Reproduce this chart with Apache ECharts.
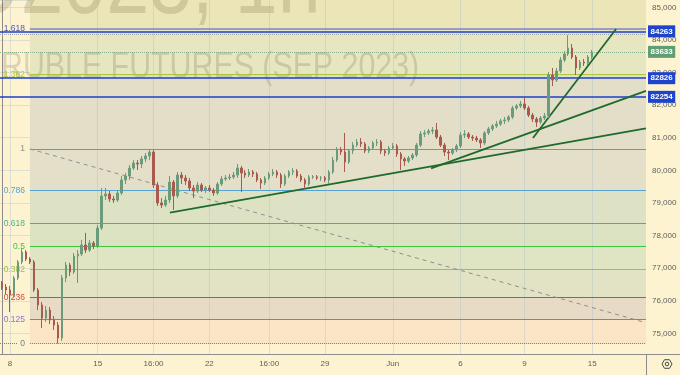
<!DOCTYPE html>
<html><head><meta charset="utf-8">
<script src="https://cdn.jsdelivr.net/npm/echarts@6/dist/echarts.min.js"></script>
<style>html,body{margin:0;padding:0;background:#fdf3d1}#c{width:680px;height:375px}</style>
</head><body><div id="c"></div>
<script>
// [open, close, low, high] hourly-ish bars
const candles = [
[76545,76420,76330,76605],[76420,76330,76205,76515],[76330,76175,75655,76455],[76175,76700,76115,76760],
[76700,77190,76635,77250],[77190,77495,77125,77620],[77495,77280,77220,77555],[77280,77190,77125,77340],
[77190,76330,76270,77250],[76330,75870,75715,76390],[75870,75470,75165,75960],[75470,75715,75350,75840],
[75715,75410,75285,75810],[75410,75255,75105,75530],[75255,74855,74690,75350],[74855,76700,74765,76790],
[76700,77095,76575,77190],[77095,76880,76760,77160],[76880,77370,76820,77465],[77370,77435,76545,77555],
[77435,77710,77370,77865],[77710,77555,77465,78080],[77555,77770,77495,77865],[77770,77680,77585,77835],
[77680,78230,77620,78325],[78230,79215,78170,79460],[79215,79275,79090,79460],[79275,79120,79030,79365],
[79120,79090,79000,79215],[79090,79305,79030,79395],[79305,79705,79245,79825],[79705,79825,79580,79920],
[79825,80070,79705,80165],[80070,80225,80010,80315],[80225,80195,80010,80315],[80195,80350,80070,80440],
[80350,80440,80255,80530],[80440,80560,80315,80655],[80560,79550,79460,80625],[79550,79000,78905,79640],
[79000,78935,78845,79150],[78935,79090,78875,79215],[79090,79640,79000,79825],[79640,79215,78785,79705],
[79215,79855,79150,79950],[79855,79765,79580,79950],[79765,79675,79550,79855],[79675,79460,79365,79765],
[79460,79365,79150,79550],[79365,79550,79305,79640],[79550,79395,79335,79610],[79395,79460,79305,79520],
[79460,79395,79335,79550],[79395,79305,79215,79460],[79305,79580,79245,79640],[79580,79735,79520,79825],
[79735,79765,79675,79855],[79765,79795,79705,79890],[79795,79855,79735,79950],[79855,80070,79765,80195],
[80070,79920,79335,80135],[79920,79855,79765,80010],[79855,79950,79795,80040],[79950,79890,79795,80010],
[79890,79705,79640,79950],[79705,79610,79430,79765],[79610,79765,79550,79825],[79765,79890,79705,79950],
[79890,79950,79825,80040],[79950,79855,79765,80010],[79855,79580,79460,79920],[79580,79825,79520,79890],
[79825,79950,79765,80010],[79950,79980,79855,80070],[79980,79825,79765,80040],[79825,79705,79640,79890],
[79705,79580,79430,79765],[79580,79795,79520,79855],[79795,79800,79735,79855],[79800,79765,79705,79855],
[79765,79770,79675,79825],[79770,79705,79640,79825],[79705,79950,79580,80010],[79950,80315,79890,80410],
[80315,80625,80255,80715],[80625,80560,80470,80715],[80560,80255,79950,81145],[80255,80595,80195,80655],
[80595,80775,80500,80870],[80775,80870,80715,80960],[80870,80810,80715,80990],[80810,80595,80530,80870],
[80595,80685,80530,80745],[80685,80840,80625,80900],[80840,80870,80745,80960],[80870,80595,80500,80930],
[80595,80530,80440,80655],[80530,80685,80470,80745],[80685,80745,80625,80840],[80745,80500,80410,80810],
[80500,80350,80010,80560],[80350,80285,80135,80410],[80285,80380,80225,80440],[80380,80470,80315,80530],
[80470,80775,80410,80840],[80775,81115,80715,81205],[81115,81145,81020,81235],[81145,81205,81085,81270],
[81205,81235,81115,81330],[81235,81020,80960,81450],[81020,80775,80715,81085],[80775,80560,80440,80840],
[80560,80530,80315,80625],[80530,80625,80470,80685],[80625,80745,80560,80810],[80745,81085,80685,81175],
[81085,81115,80990,81235],[81115,81020,80960,81175],[81020,80990,80900,81085],[80990,80930,80870,81055],
[80930,80840,80685,80990],[80840,81145,80775,81205],[81145,81270,81085,81330],[81270,81360,81205,81420],
[81360,81420,81300,81515],[81420,81515,81360,81575],[81515,81545,81420,81635],[81545,81635,81480,81695],
[81635,81910,81575,81975],[81910,81975,81850,82035],[81975,82035,81910,82125],[82035,81910,81850,82220],
[81910,81695,81635,81975],[81695,81575,81480,81760],[81575,81480,81330,81635],[81480,81605,81420,81665],
[81605,81665,81545,81760],[81665,82925,81605,83015],[82925,82770,82585,83140],[82770,83045,82710,83140],
[83045,83385,82985,83475],[83385,83570,83320,83660],[83570,83750,83505,84150],[83750,83475,83415,83875],
[83475,83140,82925,83535],[83140,83320,83075,83385],[83320,83290,83200,83415],[83290,83475,83230,83535],
[83475,83633,83415,83690]
];
const slotCount = 162;
const xTicks = [[2,'8'],[24,'15'],[38,'16:00'],[52,'22'],[67,'16:00'],[81,'29'],[98,'Jun'],[115,'6'],[131,'9'],[148,'15']];
const yMin = 74367, yMax = 85224;
const fibRatios = [0, 0.125, 0.236, 0.382, 0.5, 0.618, 0.786, 1, 1.382, 1.618];
const fibLabels = ['0','0.125','0.236','0.382','0.5','0.618','0.786','1','1.382','1.618'];
const fibLow = 74684, fibHigh = 80656;
const fibColors = ['#7b7b7b','#8d72cf','#d9463f','#9cc33a','#3cc43c','#3db88e','#56a2d2','#8e8e8e','#a9c83c','#7c82c8'];
const fibLabelColors = ['#7b7b7b','#8d72cf','#d9463f','#9cc33a','#3cc43c','#3db88e','#56a2d2','#8e8e8e','#a9c83c','#5458b0'];
const fibBandColors = ['#fbe5c6','#e8dbc5','#e2e3c4','#dfe4c3','#dce3c3','#dee2c5','#e3dfc8','#e2dec8','#e6e6c0'];
const fibTopColor = '#ece5b7';
const fibStartIdx = 7.0;
const blueLevels = [84263, 82826, 82254];
const lastPrice = 83633;
const highLine = 84170;
const trendLines = [
  [[42.1, 78700], [161.5, 81285]],
  [[107.6, 80060], [161.5, 82435]],
  [[133.15, 80990], [154.0, 84335]]
];
const fibDiagonal = [[7.0, 80656], [161.5, 75327]];

const tickMap = new Map(xTicks);
const categories = Array.from({length: slotCount}, (_, i) => tickMap.has(i) ? tickMap.get(i) : '');
const fibPrice = r => fibLow + r * (fibHigh - fibLow);
const xEnd = slotCount - 0.5;

const bands = [];
for (let i = 0; i < fibRatios.length - 1; i++) {
  bands.push([{coord: [fibStartIdx, fibPrice(fibRatios[i])], itemStyle: {color: fibBandColors[i], opacity: 1}},
              {coord: [xEnd, fibPrice(fibRatios[i + 1])]}]);
}
bands.push([{coord: [fibStartIdx, fibPrice(fibRatios[fibRatios.length - 1])], itemStyle: {color: fibTopColor, opacity: 1}},
            {coord: [xEnd, yMax]}]);

const fibLines = fibRatios.map((r, i) => [
  {coord: [fibStartIdx, fibPrice(r)],
   lineStyle: {color: fibColors[i], width: i === 9 ? 1.5 : 1, type: i === 0 ? 'dotted' : 'solid'},
   label: {show: true, position: 'start', distance: 5, formatter: fibLabels[i], color: fibLabelColors[i], fontSize: 8.5, fontFamily: 'Liberation Sans'}},
  {coord: [xEnd, fibPrice(r)]}
]);
fibLines.push([{coord: [-0.5, fibLow], lineStyle: {color: '#7b7b7b', width: 1, type: 'dotted'}, label: {show: false}},
               {coord: [fibStartIdx - 3.2, fibLow]}]);
fibLines.push([{coord: fibDiagonal[0], lineStyle: {color: '#8f8f8f', width: 1, type: [4, 4]}, label: {show: false}},
               {coord: fibDiagonal[1]}]);

const gridV = xTicks.map(t => ({xAxis: t[0], lineStyle: {color: 'rgba(165,185,205,0.35)', width: 1, type: 'solid'}, label: {show: false}}));

const boxLabel = (bg) => ({show: true, position: 'end', distance: 2, formatter: p => String(p.value),
  backgroundColor: bg, color: '#ffffff', fontSize: 8, fontWeight: 'bold', fontFamily: 'Liberation Sans', padding: [2, 2.5, 2, 2.5]});

const topLines = [];
blueLevels.forEach(v => topLines.push({yAxis: v, lineStyle: {color: '#1d3fcc', width: 1.6, type: 'solid'}, label: boxLabel('#1e44cc')}));
topLines.push({yAxis: lastPrice, lineStyle: {color: '#86ad8c', width: 1, type: 'dotted'}, label: boxLabel('#5f9e74')});
topLines.push({yAxis: highLine, lineStyle: {color: '#a5a5a5', width: 1, type: 'dotted'}, label: {show: false}});
trendLines.forEach(t => topLines.push([{coord: t[0], lineStyle: {color: '#1f6b2e', width: 1.8, type: 'solid'}, label: {show: false}}, {coord: t[1]}]));

const chart = echarts.init(document.getElementById('c'), null, {renderer: 'canvas'});
chart.setOption({
  animation: false,
  backgroundColor: '#fdf3d1',
  grid: {left: 0, right: 34, top: 0, bottom: 21, containLabel: false},
  xAxis: [
    {type: 'category', data: categories, boundaryGap: true,
     axisLine: {show: true, lineStyle: {color: '#8c8c8c'}}, axisTick: {show: false},
     axisLabel: {interval: (i) => tickMap.has(i), color: '#5f5f5f', fontSize: 8, margin: 6, fontFamily: 'Liberation Sans'},
     splitLine: {show: false}},
    {type: 'value', min: -0.5, max: xEnd, show: false}
  ],
  yAxis: {type: 'value', position: 'right', min: yMin, max: yMax, splitNumber: 10, scale: false,
    axisLine: {show: true, lineStyle: {color: '#8c8c8c'}}, axisTick: {show: false},
    axisLabel: {color: '#5f5f5f', fontSize: 8, margin: 6, showMinLabel: false, showMaxLabel: false, fontFamily: 'Liberation Sans'},
    splitLine: {show: true, lineStyle: {color: 'rgba(165,185,205,0.35)'}}},
  graphic: [
    {type: 'text', x: -108, y: -13, z: 2, scaleX: 0.82, style: {text: 'SIU2023, 1h', font: '94px "Liberation Sans"', fill: 'rgba(110,100,70,0.22)', align: 'left', verticalAlign: 'middle'}},
    {type: 'text', x: 1, y: 68, z: 2, scaleX: 0.82, style: {text: 'RUBLE FUTURES (SEP 2023)', font: '37px "Liberation Sans"', fill: 'rgba(110,100,70,0.22)', align: 'left', verticalAlign: 'middle'}},
    {type: 'line', z: 10, shape: {x1: 646.5, y1: 354, x2: 646.5, y2: 375}, style: {stroke: '#8c8c8c', lineWidth: 1}},
    {type: 'line', z: 10, shape: {x1: 646, y1: 354.5, x2: 680, y2: 354.5}, style: {stroke: '#8c8c8c', lineWidth: 1}},
    {type: 'polygon', z: 10, shape: {points: [[662,364],[664.5,359.7],[669.5,359.7],[672,364],[669.5,368.3],[664.5,368.3]]}, style: {fill: 'none', stroke: '#4a4a4a', lineWidth: 1}},
    {type: 'circle', z: 10, shape: {cx: 667, cy: 364, r: 1.8}, style: {fill: 'none', stroke: '#4a4a4a', lineWidth: 1}}
  ],
  series: [
    {type: 'line', xAxisIndex: 1, yAxisIndex: 0, data: [], z: 1, silent: true,
     markArea: {silent: true, animation: false, data: bands}},
    {type: 'line', xAxisIndex: 1, yAxisIndex: 0, data: [], z: 3, silent: true,
     markLine: {silent: true, animation: false, symbol: ['none', 'none'], data: gridV.concat(fibLines)}},
    {type: 'candlestick', xAxisIndex: 0, yAxisIndex: 0, data: candles, z: 5, barWidth: 2,
     itemStyle: {color: '#6a9c7c', color0: '#a85a4c', borderColor: '#6a9c7c', borderColor0: '#a85a4c', borderWidth: 1}},
    {type: 'line', xAxisIndex: 1, yAxisIndex: 0, data: [], z: 6, silent: true,
     markLine: {silent: true, animation: false, symbol: ['none', 'none'], data: topLines}}
  ]
});
</script></body></html>
